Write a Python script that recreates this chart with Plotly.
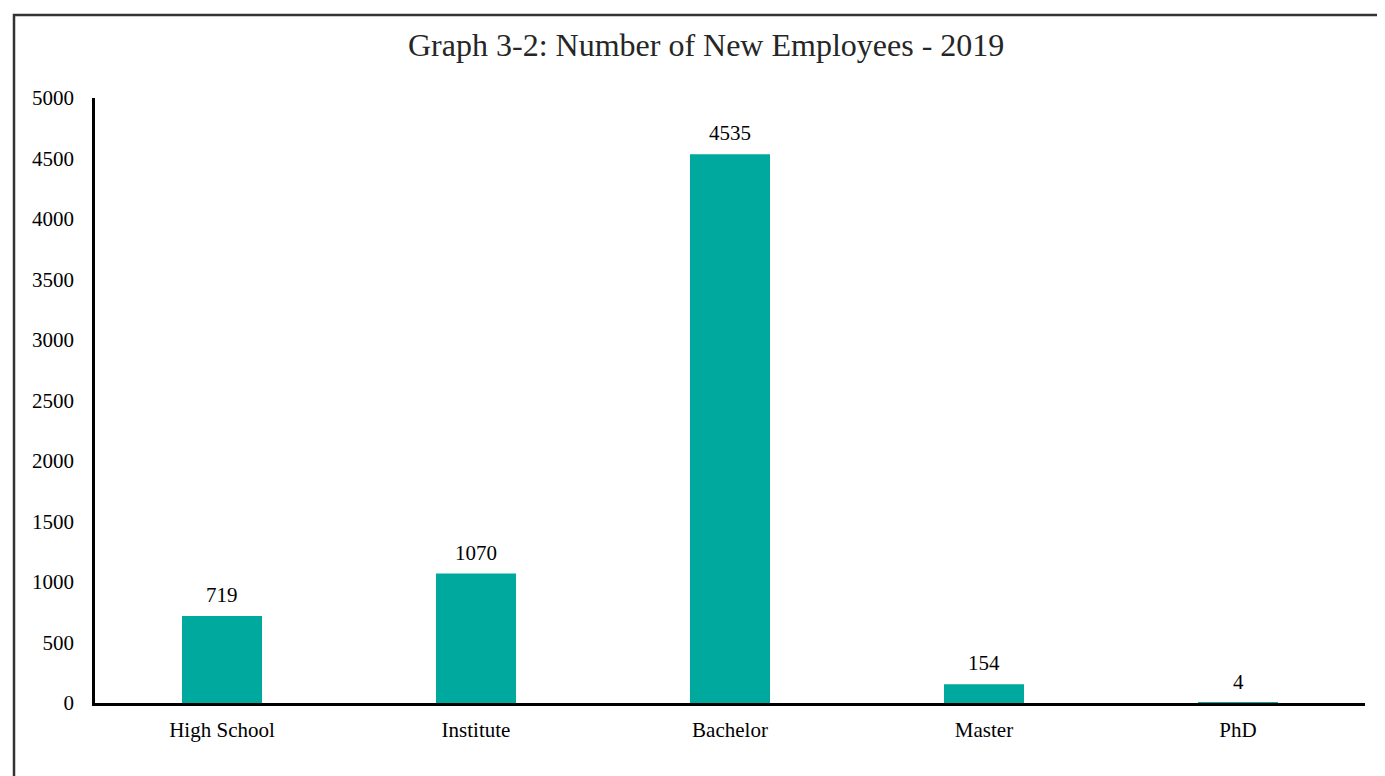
import plotly.graph_objects as go

categories = ["High School", "Institute", "Bachelor", "Master", "PhD"]
values = [719, 1070, 4535, 154, 4]
y_ticks = [0, 500, 1000, 1500, 2000, 2500, 3000, 3500, 4000, 4500, 5000]

OFF = 8  # default page body margin
W, H = 1385 - OFF, 776 - OFF
L, T = 95 - OFF, 98 - OFF
R = 1385 - 1365
B = 776 - 703
pw, ph = W - L - R, H - T - B

def px(x):
    return (x - OFF - L) / pw

def py(y):
    return (H - B - (y - OFF)) / ph

FONT = "Liberation Serif"

fig = go.Figure()
fig.add_trace(go.Bar(
    x=categories, y=values,
    marker=dict(color="#00A99D", line=dict(width=0)),
    width=0.315,
    hoverinfo="skip",
))

for c, v in zip(categories, values):
    fig.add_annotation(x=c, y=v, text=str(v), showarrow=False,
                       yanchor="bottom", yshift=7,
                       font=dict(family=FONT, size=21, color="#000000"))

fig.add_annotation(x=px(706), y=py(45), xref="paper", yref="paper",
                   text="Graph 3-2: Number of New Employees - 2019",
                   showarrow=False, xanchor="center", yanchor="middle",
                   font=dict(family=FONT, size=32, color="#262626"))

# outer frame
fig.add_shape(type="rect", xref="paper", yref="paper",
              x0=px(14), y0=py(800), x1=px(1410), y1=py(15),
              line=dict(color="#333333", width=2.5), fillcolor="rgba(0,0,0,0)")

fig.update_layout(
    width=W, height=H,
    margin=dict(l=L, r=R, t=T, b=B),
    paper_bgcolor="white", plot_bgcolor="white",
    showlegend=False,
)
fig.update_xaxes(
    showline=True, linecolor="black", linewidth=2.5,
    showgrid=False, zeroline=False,
    ticks="outside", ticklen=6, tickcolor="rgba(0,0,0,0)",
    tickfont=dict(family=FONT, size=21, color="#000000"),
)
fig.update_yaxes(
    range=[0, 5000], tickvals=y_ticks,
    showline=True, linecolor="black", linewidth=2.5,
    showgrid=False, zeroline=False,
    ticks="outside", ticklen=14, tickcolor="rgba(0,0,0,0)",
    tickfont=dict(family=FONT, size=21, color="#000000"),
)

fig.write_html("out.html")
